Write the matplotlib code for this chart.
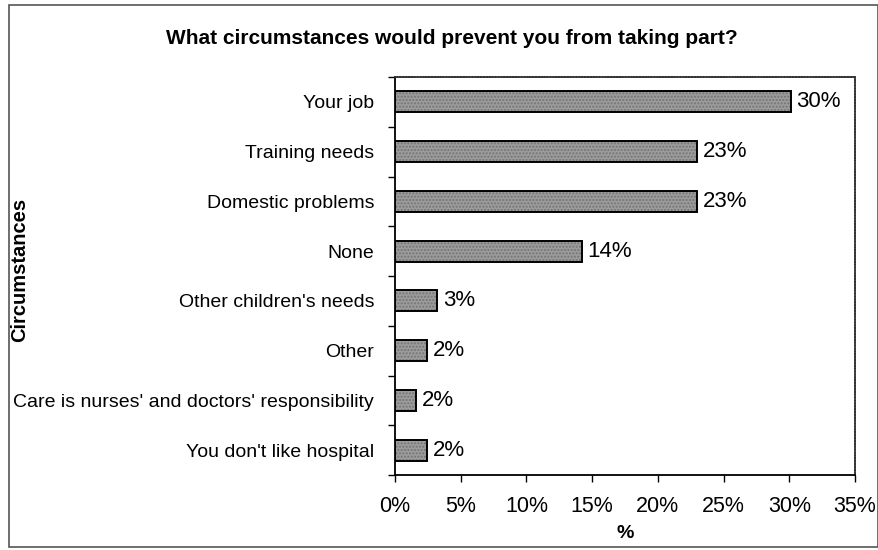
import matplotlib.pyplot as plt
from matplotlib.patches import Rectangle
from matplotlib.ticker import FuncFormatter, MultipleLocator

plt.rcParams['font.family'] = ['Liberation Sans', 'DejaVu Sans']

# data (top to bottom as in the chart)
categories = ["Your job", "Training needs", "Domestic problems", "None",
              "Other children's needs", "Other",
              "Care is nurses' and doctors' responsibility", "You don't like hospital"]
values = [30.1, 23.0, 23.0, 14.2, 3.2, 2.4, 1.6, 2.4]
value_labels = ["30%", "23%", "23%", "14%", "3%", "2%", "2%", "2%"]

fig = plt.figure(figsize=(8.79, 5.5), dpi=100)
ax = fig.add_axes([395/879, 1-475/550, 460/879, 398/550])

y = list(range(len(categories)))[::-1]
bars = ax.barh(y, values, height=0.42, color='#9c9c9c', edgecolor='black',
               linewidth=1.4, hatch='.....')
for b in bars:
    b._hatch_color = (0.45, 0.45, 0.45, 1.0)

for yi, v, lab in zip(y, values, value_labels):
    ax.text(v + 0.45, yi, lab, va='center', ha='left', fontsize=16)

ax.set_xlim(0, 35)
ax.set_ylim(-0.5, len(categories) - 0.5)
ax.xaxis.set_major_locator(MultipleLocator(5))
ax.xaxis.set_major_formatter(FuncFormatter(lambda v, p: f"{v:.0f}%"))
ax.set_yticks(y)
ax.set_yticklabels(categories, fontsize=14)
ax.set_yticks([i + 0.5 for i in range(-1, len(categories))], minor=True)
ax.tick_params(axis='y', which='major', length=0, pad=15)
ax.tick_params(axis='y', which='minor', length=5, width=1, direction='out')
ax.tick_params(axis='x', length=5, width=1, direction='out', labelsize=15.5, pad=10)

for side in ['top', 'right']:
    ax.spines[side].set_linestyle((0, (1, 0.6)))
    ax.spines[side].set_linewidth(1.3)
    ax.spines[side].set_color('#333333')
for side in ['left', 'bottom']:
    ax.spines[side].set_linewidth(1.3)

ax.set_xlabel('%', fontsize=14, fontweight='bold', labelpad=6)
fig.text(20/879, 1-270/550, 'Circumstances', rotation=90, fontsize=14.5,
         fontweight='bold', ha='center', va='center')
fig.text(452/879, 1-38/550, 'What circumstances would prevent you from taking part?',
         fontsize=15, fontweight='bold', ha='center', va='center')

# outer frame of the chart
fig.patches.append(Rectangle((9/879, 3/550), 869/879, 542/550, transform=fig.transFigure,
                             fill=False, edgecolor='#555555', linewidth=1.2))

plt.savefig('out.png', dpi=100)
